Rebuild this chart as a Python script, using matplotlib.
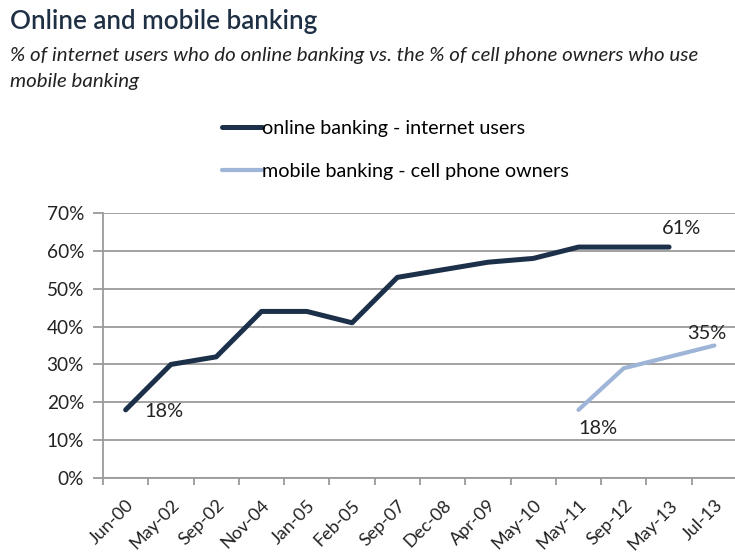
import matplotlib
matplotlib.use("Agg")
import matplotlib.pyplot as plt
import matplotlib.transforms as mtrans
import numpy as np

categories = ["Jun-00", "May-02", "Sep-02", "Nov-04", "Jan-05", "Feb-05", "Sep-07",
              "Dec-08", "Apr-09", "May-10", "May-11", "Sep-12", "May-13", "Jul-13"]
online = [18, 30, 32, 44, 44, 41, 53, 55, 57, 58, 61, 61, 61, np.nan]
mobile = [np.nan] * 10 + [18, 29, 32, 35]
yticks = [0, 10, 20, 30, 40, 50, 60, 70]

plt.rcParams['font.family'] = ['Lato', 'DejaVu Sans']
PX = 72 / 100.0  # points per pixel

fig = plt.figure(figsize=(7.35, 5.52), dpi=100)
fig.patch.set_facecolor('white')

W, H = 735, 552
left, right, top, bottom = 103, 737, 213, 478
ax = fig.add_axes([left / W, 1 - bottom / H, (right - left) / W, (bottom - top) / H])

x = np.arange(len(categories))
dark = '#1d3049'
light = '#9fb5d8'
l1, = ax.plot(x, online, color=dark, lw=5.0 * PX, solid_capstyle='round',
              label='online banking - internet users', zorder=3)
l2, = ax.plot(x, mobile, color=light, lw=4.2 * PX, solid_capstyle='round',
              label='mobile banking - cell phone owners', zorder=3)

ax.set_xlim(-0.5, len(categories) - 0.5)
ax.set_ylim(0, 70)
ax.set_yticks(yticks)
ax.set_yticklabels([f"{v}%" for v in yticks])
ax.yaxis.grid(True, color='#9a9a9a', lw=1.3)
ax.set_axisbelow(True)

# boundaries as major ticks (no labels), centers as minor ticks with labels
ax.set_xticks(np.arange(len(categories) + 1) - 0.5)
ax.set_xticklabels([])
ax.set_xticks(x, minor=True)
ax.set_xticklabels(categories, minor=True, rotation=45, ha='right',
                   rotation_mode='anchor', fontsize=18 * PX, color='#222222')
shift = mtrans.ScaledTranslation(6 / 100.0, 0, fig.dpi_scale_trans)
for lab in ax.get_xticklabels(minor=True):
    lab.set_transform(lab.get_transform() + shift)
ax.tick_params(axis='x', which='major', length=7 * PX, color='#9a9a9a', width=1.3)
ax.tick_params(axis='x', which='minor', length=0, pad=19 * PX)
ax.tick_params(axis='y', length=10 * PX, color='#9a9a9a', width=1.3, labelsize=19 * PX,
               labelcolor='#222222', pad=9 * PX)

for s in ['top', 'right']:
    ax.spines[s].set_visible(False)
ax.spines['left'].set_color('#9a9a9a')
ax.spines['left'].set_linewidth(1.3)
ax.spines['bottom'].set_color('#9a9a9a')
ax.spines['bottom'].set_linewidth(1.3)

lab_kw = dict(textcoords='offset points', fontsize=20 * PX, color='#222222',
              ha='center', va='center')
ax.annotate("18%", (0, online[0]), xytext=(38 * PX, -2 * PX), **lab_kw)
ax.annotate("61%", (12, online[12]), xytext=(12 * PX, 19 * PX), **lab_kw)
ax.annotate("35%", (13, mobile[13]), xytext=(-8 * PX, 12 * PX), **lab_kw)
ax.annotate("18%", (10, mobile[10]), xytext=(19 * PX, -19 * PX), **lab_kw)

# title and subtitle
fig.text(10 / W, 1 - 21 / H, "Online and mobile banking", fontsize=26 * PX,
         color='#1f3045', ha='left', va='center', fontweight='semibold')
fig.text(10 / W, 1 - 56 / H, "% of internet users who do online banking vs. the % of cell phone owners who use",
         fontsize=20.5 * PX, style='italic', color='#222222', ha='left', va='center')
fig.text(10 / W, 1 - 82 / H, "mobile banking",
         fontsize=20.5 * PX, style='italic', color='#222222', ha='left', va='center')

leg_fs = 19.8
fig.legend(handles=[l1, l2], loc='upper left', bbox_to_anchor=(222 / W, 1 - 120 / H),
           frameon=False, fontsize=leg_fs * PX, handlelength=40 / leg_fs, handletextpad=0.0,
           labelspacing=1.32, borderpad=0, borderaxespad=0)

fig.savefig("out.png", dpi=100, facecolor='white')
